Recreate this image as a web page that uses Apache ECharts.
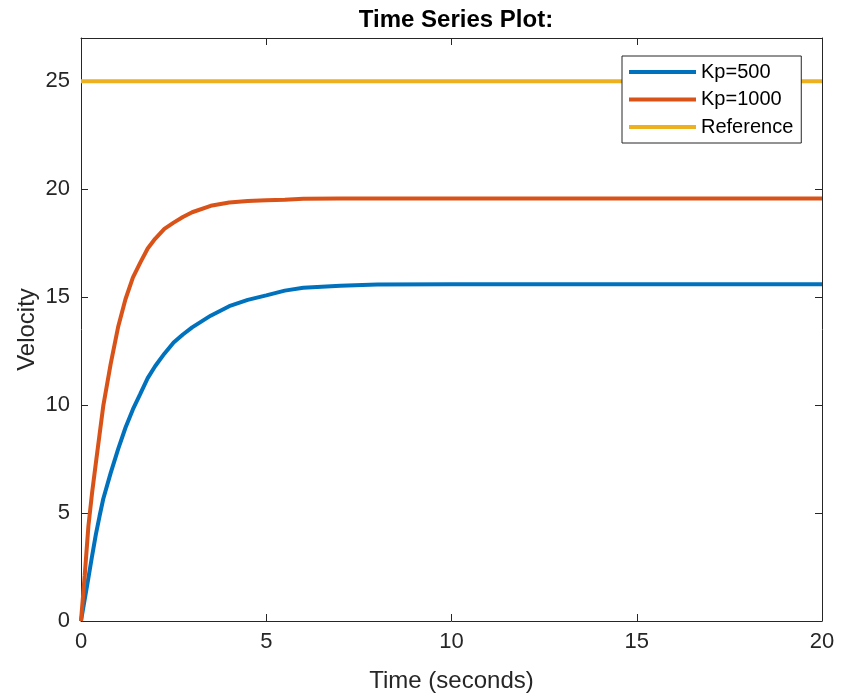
<!DOCTYPE html>
<html>
<head>
<meta charset="utf-8">
<script src="https://cdn.jsdelivr.net/npm/echarts@6/dist/echarts.min.js"></script>
<style>
html,body{margin:0;padding:0;background:#fff;}
#chart{width:845px;height:694px;}
</style>
</head>
<body>
<div id="chart"></div>
<script>
// ---- data ----
var timeSeconds = [0, 0.1, 0.2, 0.3, 0.4, 0.5, 0.6, 0.8, 1.0, 1.2, 1.4, 1.6, 1.8, 2.0, 2.25, 2.5, 2.75, 3.0, 3.5, 4.0, 4.5, 5.0, 5.5, 6.0, 7.0, 8.0, 10, 12, 15, 20];
var velocityKp500 = [0, 1.0, 2.0, 3.02, 4.0, 4.85, 5.65, 6.85, 7.95, 8.95, 9.8, 10.52, 11.25, 11.8, 12.38, 12.9, 13.27, 13.6, 14.14, 14.58, 14.87, 15.08, 15.3, 15.43, 15.53, 15.58, 15.6, 15.6, 15.6, 15.6];
var velocityKp1000 = [0, 2.1, 4.4, 5.95, 7.3, 8.63, 9.95, 11.9, 13.6, 14.9, 15.9, 16.6, 17.25, 17.7, 18.16, 18.45, 18.71, 18.93, 19.23, 19.38, 19.45, 19.49, 19.51, 19.56, 19.57, 19.57, 19.57, 19.57, 19.57, 19.57];
var referenceTime = [0, 20];
var referenceVelocity = [25, 25];
var seriesNames = ['Kp=500', 'Kp=1000', 'Reference'];
var xTicks = [0, 5, 10, 15, 20];
var yTicks = [0, 5, 10, 15, 20, 25];

function pairs(xs, ys) { return xs.map(function (x, i) { return [x, ys[i]]; }); }

var FONT = '"Liberation Sans", Arial, Helvetica, sans-serif';
var AX = '#262626';

var chart = echarts.init(document.getElementById('chart'), null, {renderer: 'canvas'});

var baseAxis = {
  axisLine: {show: true, onZero: false, lineStyle: {color: AX, width: 1}},
  axisTick: {show: true, inside: true, length: 7, lineStyle: {color: AX, width: 1}},
  splitLine: {show: false}
};

chart.setOption({
  animation: false,
  backgroundColor: '#ffffff',
  title: {
    text: 'Time Series Plot:',
    left: 451, top: 3, textAlign: 'center',
    textStyle: {fontFamily: FONT, fontSize: 24, fontWeight: 'bold', color: '#000'}
  },
  legend: {
    data: seriesNames,
    orient: 'vertical',
    left: 622, top: 56,
    padding: [6, 8, 6, 7],
    itemGap: 7.5,
    itemWidth: 67, itemHeight: 4,
    icon: 'rect',
    borderColor: AX, borderWidth: 1,
    backgroundColor: '#fff',
    textStyle: {fontFamily: FONT, fontSize: 20, color: '#000', padding: [0, 0, 0, 0]}
  },
  grid: {left: 81, right: 23, top: 38, bottom: 73, containLabel: false, outerBoundsMode: 'none'},
  xAxis: [
    Object.assign({}, baseAxis, {
      type: 'value', position: 'bottom', min: 0, max: 20, interval: 5,
      name: 'Time (seconds)', nameLocation: 'middle', nameGap: 48,
      nameTextStyle: {fontFamily: FONT, fontSize: 24, color: AX},
      axisLabel: {fontFamily: FONT, fontSize: 22, color: AX, margin: 10,
        formatter: function (v) { return xTicks.indexOf(v) >= 0 ? String(v) : ''; }}
    }),
    Object.assign({}, baseAxis, {
      type: 'value', position: 'top', min: 0, max: 20, interval: 5,
      axisLabel: {show: false}
    })
  ],
  yAxis: [
    Object.assign({}, baseAxis, {
      type: 'value', position: 'left', min: 0, max: 27, interval: 5,
      name: 'Velocity', nameLocation: 'middle', nameGap: 42, nameMoveOverlap: false,
      nameTextStyle: {fontFamily: FONT, fontSize: 24, color: AX},
      axisLabel: {fontFamily: FONT, fontSize: 22, color: AX, margin: 11,
        formatter: function (v) { return yTicks.indexOf(v) >= 0 ? String(v) : ''; }}
    }),
    Object.assign({}, baseAxis, {
      type: 'value', position: 'right', min: 0, max: 27, interval: 5,
      axisLabel: {show: false}
    })
  ],
  series: [
    {name: seriesNames[0], type: 'line', data: pairs(timeSeconds, velocityKp500),
     showSymbol: false, symbol: 'none', smooth: false, clip: true,
     color: '#0072BD', lineStyle: {color: '#0072BD', width: 4}},
    {name: seriesNames[1], type: 'line', data: pairs(timeSeconds, velocityKp1000),
     showSymbol: false, symbol: 'none', smooth: false, clip: true,
     color: '#D95319', lineStyle: {color: '#D95319', width: 4}},
    {name: seriesNames[2], type: 'line', data: pairs(referenceTime, referenceVelocity),
     showSymbol: false, symbol: 'none', clip: true,
     color: '#EDB120', lineStyle: {color: '#EDB120', width: 4}}
  ]
});
</script>
</body>
</html>
